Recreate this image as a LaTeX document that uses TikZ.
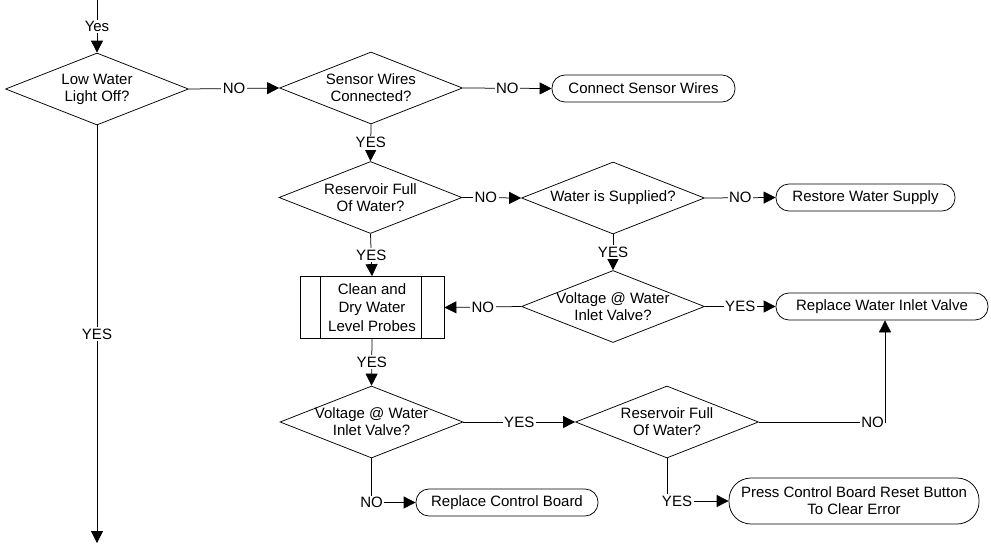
\documentclass[tikz,border=0pt]{standalone}
\usepackage{fontspec}
\setmainfont{Liberation Sans}
\usetikzlibrary{shapes.geometric,arrows.meta}
\begin{document}
\begin{tikzpicture}[x=1pt,y=-1pt,
  every node/.style={font=\fontsize{15}{17}\selectfont},
  dec/.style={draw,diamond,minimum width=183pt,minimum height=72pt,inner sep=0pt,line width=0.75pt},
  term/.style={draw,rounded corners=13pt,minimum height=27pt,inner sep=0pt,line width=0.75pt},
  lbl/.style={fill=white,inner sep=1.5pt},
  arr/.style={line width=0.75pt,-{Triangle[length=12pt,width=12pt]}},
  ln/.style={line width=0.75pt}]
\useasboundingbox (0,0) rectangle (991,546);

% decisions
\node[dec,label={[align=center]center:Low Water\\Light Off?}] (d1) at (97,89) {};
\node[dec,label={[align=center]center:Sensor Wires\\Connected?}] (d2) at (371,88) {};
\node[dec,label={[align=center]center:Reservoir Full\\Of Water?}] (d3) at (370.5,197.5) {};
\node[dec,label={[align=center]center:Water is Supplied?}] (d4) at (613,198) {};
\node[dec,label={[align=center]center:Voltage @ Water\\Inlet Valve?}] (d5) at (613,306.5) {};
\node[dec,label={[align=center]center:Voltage @ Water\\Inlet Valve?}] (d6) at (371.5,422) {};
\node[dec,label={[align=center]center:Reservoir Full\\Of Water?}] (d7) at (667,422) {};

% terminals
\node[term,minimum width=183pt] (t1) at (643.5,88.5) {Connect Sensor Wires};
\node[term,minimum width=179pt] (t2) at (865.5,197.5) {Restore Water Supply};
\node[term,minimum width=212pt] (t3) at (882,306.5) {Replace Water Inlet Valve};
\node[term,minimum width=182pt] (t4) at (507,502.5) {Replace Control Board};
\node[term,minimum width=250pt,minimum height=46pt,rounded corners=22pt,align=center] (t5) at (854,501) {Press Control Board Reset Button\\To Clear Error};

% predefined process
\node[draw,line width=0.75pt,minimum width=144pt,minimum height=62pt,inner sep=0pt,align=center,font=\fontsize{15}{18.5}\selectfont] (p) at (372,307.5) {Clean and\\Dry Water\\Level Probes};
\draw[ln] ([xshift=20.5pt]p.north west) -- ([xshift=20.5pt]p.south west);
\draw[ln] ([xshift=-23pt]p.north east) -- ([xshift=-23pt]p.south east);

% coordinates
\coordinate (top) at (97,0);
\coordinate (bot) at (97,543);
\coordinate (c6) at (371.5,502.5);
\coordinate (c7) at (667,501);
\coordinate (c8) at (885,422);

% connectors
\draw[arr] (top) -- node[lbl]{Yes} (d1.north);
\draw[arr] (d1.east) -- node[lbl]{NO} (d2.west);
\draw[arr] (d1.south) -- node[lbl]{YES} (bot);
\draw[arr] (d2.east) -- node[lbl]{NO} (t1.west);
\draw[arr] (d2.south) -- node[lbl]{YES} (d3.north);
\draw[arr] (d3.east) -- node[lbl,pos=0.4]{NO} (d4.west);
\draw[arr] (d3.south) -- node[lbl]{YES} (p.north);
\draw[arr] (d4.east) -- node[lbl]{NO} (t2.west);
\draw[arr] (d4.south) -- node[lbl]{YES} (d5.north);
\draw[arr] (d5.west) -- node[lbl]{NO} (p.east);
\draw[arr] (d5.east) -- node[lbl]{YES} (t3.west);
\draw[arr] (p.south) -- node[lbl]{YES} (d6.north);
\draw[arr] (d6.east) -- node[lbl]{YES} (d7.west);
\draw[arr] (d6.south) -- (c6) -- (t4.west);
\node[lbl] at (c6) {NO};
\draw[arr] (d7.south) -- (c7) -- (t5.west);
\node[lbl] at (677,501) {YES};
\draw[arr] (d7.east) -- (c8) -- (c8 |- t3.south);
\node[lbl] at (872.5,422) {NO};
\end{tikzpicture}
\end{document}
